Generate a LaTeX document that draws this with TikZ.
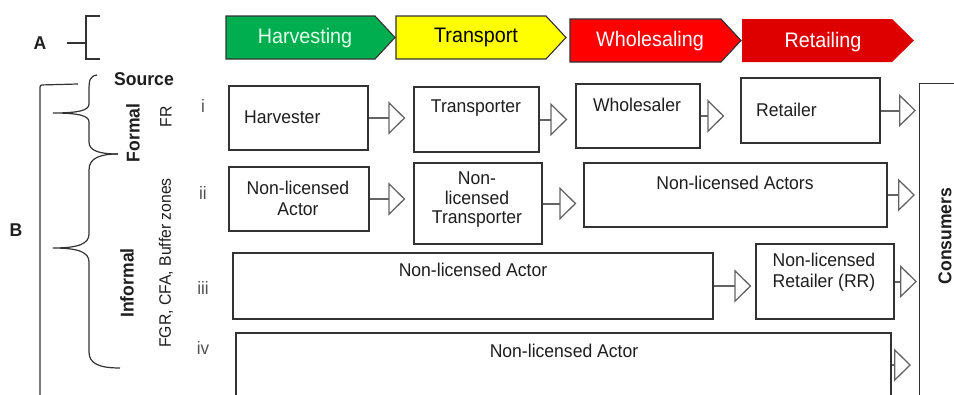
\documentclass[tikz,border=0pt]{standalone}
\usepackage{fontspec}
\setmainfont[FakeStretch=0.95]{Liberation Sans}
\newfontfamily\stagefont[FakeStretch=0.94]{Liberation Sans}
\usetikzlibrary{arrows.meta}
\definecolor{harvgreen}{RGB}{0,174,80}
\definecolor{transyellow}{RGB}{255,255,0}
\definecolor{wholered}{RGB}{255,0,0}
\definecolor{retred}{RGB}{222,0,0}
\definecolor{edge}{RGB}{50,50,50}
\definecolor{ink}{RGB}{30,30,30}
\definecolor{numgray}{RGB}{80,80,80}
\definecolor{flowgray}{RGB}{100,100,100}
\definecolor{palemint}{RGB}{225,255,235}
\begin{document}
\begin{tikzpicture}[x=1pt,y=-1pt,
  box/.style={draw=edge, line width=1.2pt, fill=white, inner sep=0pt},
  txt/.style={text=ink, font=\fontsize{18.5}{21}\selectfont, inner sep=0pt, align=center},
  bold/.style={text=ink, font=\fontsize{18.5}{21}\selectfont\bfseries, inner sep=0pt},
  num/.style={text=numgray, font=\fontsize{18}{21}\selectfont, inner sep=0pt},
  stage/.style={draw=edge, line width=1.1pt},
  stagetxt/.style={font=\stagefont\fontsize{21}{24}\selectfont, inner sep=0pt},
  flow/.style={draw=flowgray, line width=2pt,
    -{Triangle[open, length=17pt, width=33pt, line width=1.3pt]}},
  brace/.style={draw=edge, line width=1.2pt}]
\useasboundingbox (0,0) rectangle (954,394);

% ---- A: value-chain stages ----
\node[bold] (labA) at (40,43) {A};
\draw[brace] (67,43) -- (86,43);
\draw[brace] (100,16) -- (86,16) -- (86,59) -- (100,59);

\path[stage, fill=harvgreen]   (226,16) -- (375,16) -- (395,37.5) -- (375,59) -- (226,59) -- cycle;
\path[stage, fill=transyellow] (396,16) -- (546,16) -- (566,37.5) -- (546,59) -- (396,59) -- cycle;
\path[stage, fill=wholered]    (570,19) -- (721,19) -- (741,40.5) -- (721,62) -- (570,62) -- cycle;
\path[fill=retred]             (742,19) -- (892,19) -- (914,40.5) -- (892,62) -- (742,62) -- cycle;
\node[stagetxt, text=palemint] (sHarv)  at (305,38) {Harvesting};
\node[stagetxt, text=black]    (sTrans) at (476,37) {Transport};
\node[stagetxt, text=white]    (sWhole) at (650,41) {Wholesaling};
\node[stagetxt, text=white]    (sRet)   at (823,42) {Retailing};

% ---- B: sources and actor chains ----
\node[bold] (labB) at (16,230) {B};
\draw[brace, rounded corners=2pt] (78,84) -- (40,85) -- (40,400);

\node[bold] (src) at (144,79) {Source};

% Formal brace
\draw[brace] (97,75) .. controls (90,76) and (89,80) .. (89,90) -- (89,104)
  .. controls (89,110) and (80,113) .. (53,113)
  .. controls (80,113) and (89,116) .. (89,122) -- (89,142)
  .. controls (89,151) and (100,154) .. (118,154);
% Informal brace
\draw[brace] (118,154) .. controls (100,154) and (89,158) .. (89,170) -- (89,234)
  .. controls (89,244) and (78,248) .. (53,248)
  .. controls (78,248) and (89,252) .. (89,262) -- (89,352)
  .. controls (89,364) and (100,368) .. (120,368);

\node[bold, rotate=90] (formal) at (133,133) {Formal};
\node[bold, rotate=90] (informal) at (127,283) {Informal};
\node[txt, rotate=90, font=\fontsize{16.6}{20}\selectfont] (fr) at (166,117) {FR};
\node[txt, rotate=90, font=\fontsize{16.6}{20}\selectfont] (fgr) at (166,263) {FGR, CFA, Buffer zones};

\node[num] (ri)   at (203,106) {i};
\node[num] (rii)  at (203,193) {ii};
\node[num] (riii) at (203,288) {iii};
\node[num] (riv)  at (203,348) {iv};

% Consumers
\node[box, minimum width=60, minimum height=320, anchor=north west] (cons) at (919,83) {};
\node[bold, rotate=90] (consT) at (945,236) {Consumers};

% Row i
\node[box, minimum width=139, minimum height=64] (harv)  at (298.5,118) {};
\node[box, minimum width=125, minimum height=65] (trans) at (476.5,119.5) {};
\node[box, minimum width=124, minimum height=64] (whole) at (638,116) {};
\node[box, minimum width=139, minimum height=65] (ret)   at (810.5,110.5) {};
\node[txt, anchor=west] at (244,117) {Harvester};
\node[txt] at (476,108) {Transporter};
\node[txt] at (637,105) {Wholesaler};
\node[txt, anchor=west] at (756,110) {Retailer};

% Row ii
\node[box, minimum width=140, minimum height=64] (na2)  at (299,199) {};
\node[box, minimum width=128, minimum height=81] (nt2)  at (478,203.5) {};
\node[box, minimum width=303, minimum height=64] (nas2) at (735.5,195) {};
\node[txt] at (298,198) {Non-licensed\\Actor};
\node[txt, font=\fontsize{18.5}{19.5}\selectfont] at (477,200) {Non-\\licensed\\Transporter};
\node[txt] at (735,183) {Non-licensed Actors};

% Row iii
\node[box, minimum width=480, minimum height=66] (na3) at (473,286) {};
\node[box, minimum width=138, minimum height=75] (rr3) at (825,281.5) {};
\node[txt] at (473,270) {Non-licensed Actor};
\node[txt] at (824,272) {Non-licensed\\Retailer (RR)};

% Row iv
\node[box, minimum width=655, minimum height=64] (na4) at (563.5,365) {};
\node[txt] at (564,351) {Non-licensed Actor};

% Flows
\draw[flow, shorten >=8pt]  (harv.east)  -- (harv.east -| trans.west);
\draw[flow, shorten >=8pt]  (trans.east) -- (trans.east -| whole.west);
\draw[flow, shorten >=16pt] (whole.east) -- (whole.east -| ret.west);
\draw[flow, shorten >=3pt]  (ret.east)   -- (ret.east -| cons.west);
\draw[flow, shorten >=8pt]  (na2.east)   -- (na2.east -| nt2.west);
\draw[flow, shorten >=7pt]  (nt2.east)   -- (nt2.east -| nas2.west);
\draw[flow, shorten >=4pt]  (nas2.east)  -- (nas2.east -| cons.west);
\draw[flow, shorten >=4pt]  (na3.east)   -- (na3.east -| rr3.west);
\draw[flow, shorten >=2pt]  (rr3.east)   -- (rr3.east -| cons.west);
\draw[flow, shorten >=8pt]  (na4.east)   -- (na4.east -| cons.west);
\end{tikzpicture}
\end{document}
